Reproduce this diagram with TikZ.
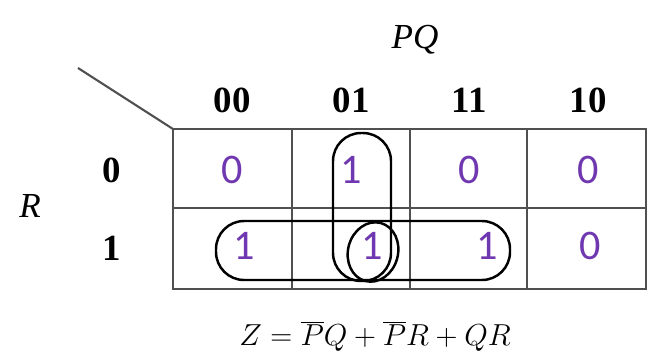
\documentclass[tikz,border=0pt]{standalone}
\usepackage{fontspec}
\newfontfamily\scanfont{Liberation Serif}
\newfontfamily\cellfont{Carlito}
\definecolor{cellpurple}{RGB}{112,56,176}
\definecolor{gridgray}{RGB}{80,80,80}
\tikzset{
  gridline/.style={gridgray, line width=1.2pt},
  head/.style={font=\scanfont\bfseries\fontsize{21}{24}\selectfont},
  var/.style={font=\scanfont\itshape\fontsize{20}{24}\selectfont},
  cell/.style={cellpurple, font=\cellfont\fontsize{24}{28}\selectfont},
  loop/.style={black, line width=1.4pt}
}
\begin{document}
\begin{tikzpicture}[x=0.02cm,y=-0.02cm]
        \useasboundingbox (0,0) rectangle (671,362);
        % grid
        \draw[gridline] (173,129) rectangle (646,289);
        \draw[gridline] (173,208) -- (646,208);
        \foreach \x in {292,410,527} \draw[gridline] (\x,129) -- (\x,289);
        \draw[gridline] (78,68) -- (173,129);
        % labels
        \node[var] (pq) at (415,40) {PQ};
        \node[var] (r) at (30,206) {R};
        \node[head] (c00) at (232,100) {00};
        \node[head] (c01) at (351,100) {01};
        \node[head] (c11) at (469,100) {11};
        \node[head] (c10) at (588,100) {10};
        \node[head] (r0) at (112,170) {0};
        \node[head] (r1) at (112,248) {1};
        % cells
        \node[cell] (m0) at (232,170) {0};
        \node[cell] (m1) at (351,170) {1};
        \node[cell] (m3) at (469,170) {0};
        \node[cell] (m2) at (588,170) {0};
        \node[cell] (m4) at (244,246) {1};
        \node[cell] (m5) at (372,246) {1};
        \node[cell] (m7) at (487,246) {1};
        \node[cell] (m6) at (590,246) {0};
        % groups
        \draw[loop, rounded corners=16pt] (333,133) rectangle (391,281);
        \draw[loop, rounded corners=16pt] (216,221) rectangle (510,280);
        \draw[loop, rotate around={-15:(373,252)}] (373,252) ellipse (25 and 30);
        % result
        \node[font=\fontsize{18.2}{22}\selectfont] (eq) at (375,336)
          {$Z=\overline{P}Q+\overline{P}R+QR$};
\end{tikzpicture}
\end{document}
